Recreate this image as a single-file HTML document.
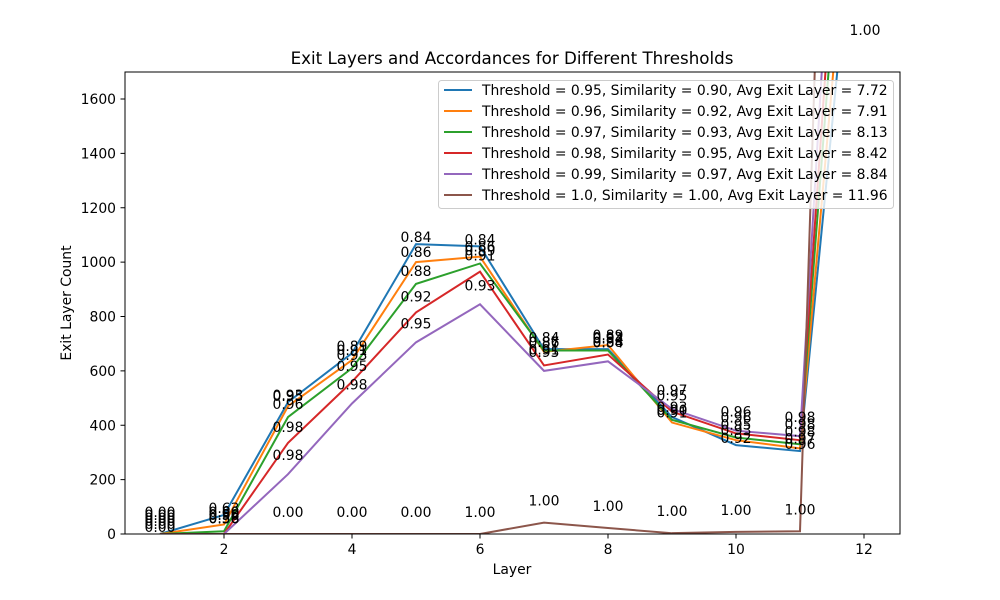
<!DOCTYPE html>
<html><head><meta charset="utf-8"><style>
html,body{margin:0;padding:0;background:#fff}
svg{display:block;font-family:"DejaVu Sans","Liberation Sans",sans-serif}
</style></head><body>
<svg id="chart" width="1000" height="600" viewBox="0 0 1000 600" xmlns="http://www.w3.org/2000/svg">
<defs><clipPath id="plotclip"><rect x="125" y="72" width="775" height="462"/></clipPath></defs>
<text x="512" y="64" font-size="16.7" text-anchor="middle">Exit Layers and Accordances for Different Thresholds</text>
<g id="series" clip-path="url(#plotclip)"></g>
<g id="labels"></g>
<rect x="125" y="72" width="775" height="462" fill="none" stroke="#000" stroke-width="1"/>
<g id="axes"></g>
<text x="512" y="574" font-size="13.9" text-anchor="middle">Layer</text>
<text transform="translate(71,303) rotate(-90)" font-size="13.9" text-anchor="middle">Exit Layer Count</text>
<text x="865" y="35" font-size="13.9" text-anchor="middle">1.00</text>
<g id="legend"></g>
</svg>
<script>
const layers = [1,2,3,4,5,6,7,8,9,10,11,12];
const seriesNames = [
 "Threshold = 0.95, Similarity = 0.90, Avg Exit Layer = 7.72",
 "Threshold = 0.96, Similarity = 0.92, Avg Exit Layer = 7.91",
 "Threshold = 0.97, Similarity = 0.93, Avg Exit Layer = 8.13",
 "Threshold = 0.98, Similarity = 0.95, Avg Exit Layer = 8.42",
 "Threshold = 0.99, Similarity = 0.97, Avg Exit Layer = 8.84",
 "Threshold = 1.0, Similarity = 1.00, Avg Exit Layer = 11.96"];
const colors = ["#1f77b4","#ff7f0e","#2ca02c","#d62728","#9467bd","#8c564b"];
const counts95 = [0,70,485,665,1066,1058,680,680,430,327,305,2700];
const counts96 = [0,35,470,640,1000,1020,670,695,410,345,315,2980];
const counts97 = [0,10,430,610,920,995,675,675,420,355,330,3400];
const counts98 = [0,0,335,560,815,965,620,660,450,370,345,3750];
const counts99 = [0,0,220,480,705,845,600,635,460,380,360,4300];
const counts100 = [0,0,0,0,0,0,42,22,3,8,10,7350];
const acc95 = ["0.00","0.63","0.93","0.89","0.84","0.84","0.87","0.88","0.90","0.92","0.96",""];
const acc96 = ["0.00","0.50","0.95","0.91","0.86","0.86","0.86","0.89","0.91","0.93","0.97",""];
const acc97 = ["0.00","0.56","0.96","0.93","0.88","0.89","0.84","0.92","0.93","0.95","0.98",""];
const acc98 = ["0.00","0.58","0.98","0.95","0.92","0.91","0.91","0.94","0.95","0.96","0.98",""];
const acc99 = ["0.00","0.96","0.98","0.98","0.95","0.93","0.95","0.94","0.97","0.96","0.98",""];
const acc100 = ["0.00","0.00","0.00","0.00","0.00","1.00","1.00","1.00","1.00","1.00","1.00",""];
const xTicks = [2,4,6,8,10,12];
const yTicks = [0,200,400,600,800,1000,1200,1400,1600];

const allCounts=[counts95,counts96,counts97,counts98,counts99,counts100];
const allAcc=[acc95,acc96,acc97,acc98,acc99,acc100];
const labelOffsets=[7,10,13,16,19,22];
const NS="http://www.w3.org/2000/svg";
const xs=v=>224+(v-2)*64;
const ys=v=>534-v*(435/1600);
function mk(tag,attrs,parent){const e=document.createElementNS(NS,tag);for(const k in attrs)e.setAttribute(k,attrs[k]);parent.appendChild(e);return e;}
const gS=document.getElementById('series'),gL=document.getElementById('labels'),gA=document.getElementById('axes'),gLeg=document.getElementById('legend');
allCounts.forEach((arr,i)=>{
 const p=mk('polyline',{points:arr.map((v,j)=>xs(layers[j])+','+ys(v)).join(' '),fill:'none',stroke:colors[i],'stroke-width':2},gS);
 
 
 arr.forEach((v,j)=>{
  const t=allAcc[i][j]; if(!t) return;
  const y=ys(v)-labelOffsets[i]+5;
  if(y<0||y>600) return;
  const e=mk('text',{x:xs(layers[j]),y:y,'font-size':13.9,'text-anchor':'middle'},gL);
  e.textContent=t;
  
  
 });
});
xTicks.forEach(v=>{
 const x=xs(v);
 const l=mk('line',{x1:x,x2:x,y1:534,y2:538.5,stroke:'#000'},gA);
 
 
 const t=mk('text',{x:x,y:554,'font-size':13.9,'text-anchor':'middle'},gA);
 t.textContent=v;
 
 
});
yTicks.forEach(v=>{
 const y=ys(v);
 const l=mk('line',{x1:120.5,x2:125,y1:y,y2:y,stroke:'#000'},gA);
 
 
 const t=mk('text',{x:116,y:y+5,'font-size':13.9,'text-anchor':'end'},gA);
 t.textContent=v;
 
 
});
const box=mk('rect',{x:438.5,y:80.5,width:455,height:128,rx:3,fill:'rgba(255,255,255,0.8)',stroke:'#ccc'},gLeg);


seriesNames.forEach((n,i)=>{
 const y=90+i*21;
 const g=mk('g',{},gLeg);
 
 
 mk('line',{x1:444,x2:472,y1:y,y2:y,stroke:colors[i],'stroke-width':2},g);
 const t=mk('text',{x:482,y:y+5,'font-size':13.9},g);
 t.textContent=n;
});
</script>
</body></html>
